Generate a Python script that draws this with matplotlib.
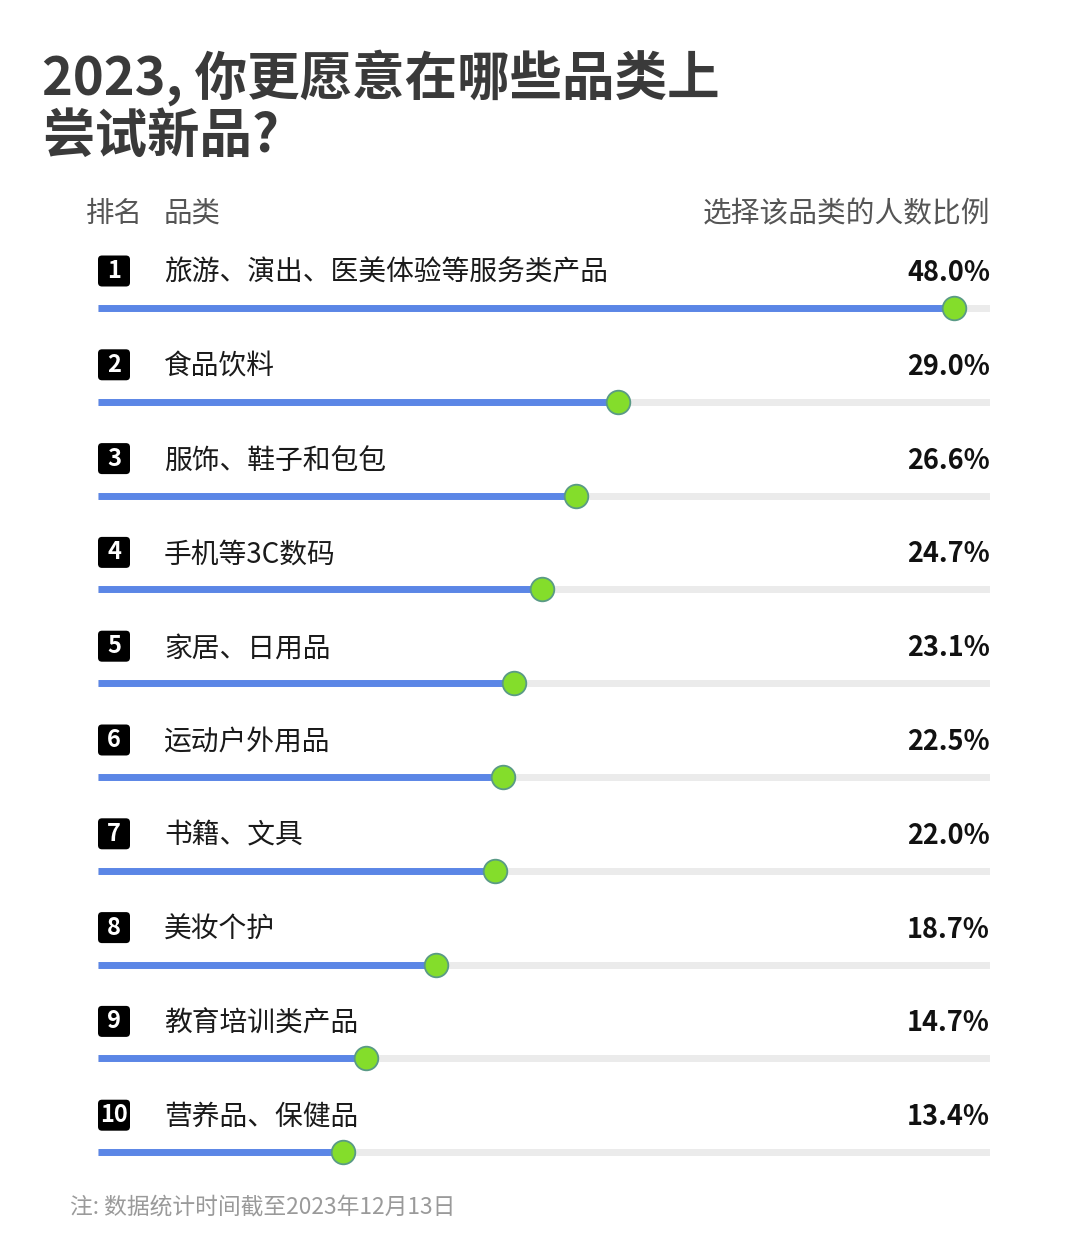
import matplotlib
matplotlib.use("Agg")
import matplotlib.pyplot as plt
from matplotlib.patches import FancyBboxPatch

plt.rcParams['font.family'] = ['Noto Sans CJK SC', 'DejaVu Sans']

# data
categories = ['旅游、演出、医美体验等服务类产品', '食品饮料', '服饰、鞋子和包包', '手机等3C数码',
              '家居、日用品', '运动户外用品', '书籍、文具', '美妆个护', '教育培训类产品', '营养品、保健品']
shares = [48.0, 29.0, 26.6, 24.7, 23.1, 22.5, 22.0, 18.7, 14.7, 13.4]
ranks = list(range(1, len(categories) + 1))

title_lines = ['2023, 你更愿意在哪些品类上', '尝试新品?']
header_rank = '排名'
header_cat = '品类'
header_right = '选择该品类的人数比例'
note = '注: 数据统计时间截至2023年12月13日'

W, H = 1080, 1248
fig = plt.figure(figsize=(W / 100, H / 100), dpi=100)
fig.patch.set_facecolor('white')

# axes: x in percent (track spans pixel 98..990), y in row index
row_px = 93.8
first_px = 308
x0, x1 = -0.45, 50.05
ax = fig.add_axes([98 / W, 0, (990 - 98) / W, 1])
ax.set_xlim(x0, x1)
ax.set_ylim((H - first_px) / row_px, -first_px / row_px)
ax.axis('off')

xu = (990 - 98) / (x1 - x0)  # px per x unit

for i, (cat, v, r) in enumerate(zip(categories, shares, ranks)):
    # grey track and blue bar
    ax.plot([x0, x1], [i, i], color='#ebebeb', lw=5, solid_capstyle='butt', zorder=1)
    ax.plot([x0, v], [i, i], color='#5b86e6', lw=5, solid_capstyle='butt', zorder=2)
    ax.plot(v, i, 'o', ms=17, mfc='#84dd2b', mec='#5a9a86', mew=1.3, zorder=3)

    # rank box
    bw, bh = 32 / xu, 31 / row_px
    yc = i - 37 / row_px
    box = FancyBboxPatch((x0, yc - bh / 2), bw, bh,
                         boxstyle='round,pad=0,rounding_size=%f' % (4 / xu),
                         mutation_aspect=xu / row_px,
                         fc='black', ec='none', zorder=3, clip_on=False)
    ax.add_patch(box)
    ax.text(x0 + bw / 2, yc, str(r), color='white', fontsize=17, fontweight='bold',
            ha='center', va='center', zorder=4)

    ty = i - 35 / row_px
    ax.text(x0 + 66 / xu, ty, cat, color='#1a1a1a', fontsize=20,
            ha='left', va='center')
    ax.text(x1, ty, '%.1f%%' % v, color='#111111', fontsize=19.5, fontweight='bold',
            ha='right', va='center')

# title and headers
fig.text(42 / W, 1 - 78 / H, title_lines[0], fontsize=37.8, fontweight='black',
         color='#3a3a3a', ha='left', va='center')
fig.text(42 / W, 1 - 136 / H, title_lines[1], fontsize=37.8, fontweight='black',
         color='#3a3a3a', ha='left', va='center')
fig.text(86 / W, 1 - 214 / H, header_rank, fontsize=20.5, color='#555555',
         ha='left', va='center', fontweight='light')
fig.text(164 / W, 1 - 214 / H, header_cat, fontsize=20.5, color='#555555',
         ha='left', va='center', fontweight='light')
fig.text(990 / W, 1 - 214 / H, header_right, fontsize=20.7, color='#555555',
         ha='right', va='center', fontweight='light')
fig.text(70 / W, 1 - 1207 / H, note, fontsize=16.4, color='#9a9a9a',
         ha='left', va='center', fontweight='light')

fig.savefig('out.png', dpi=100, facecolor='white')
